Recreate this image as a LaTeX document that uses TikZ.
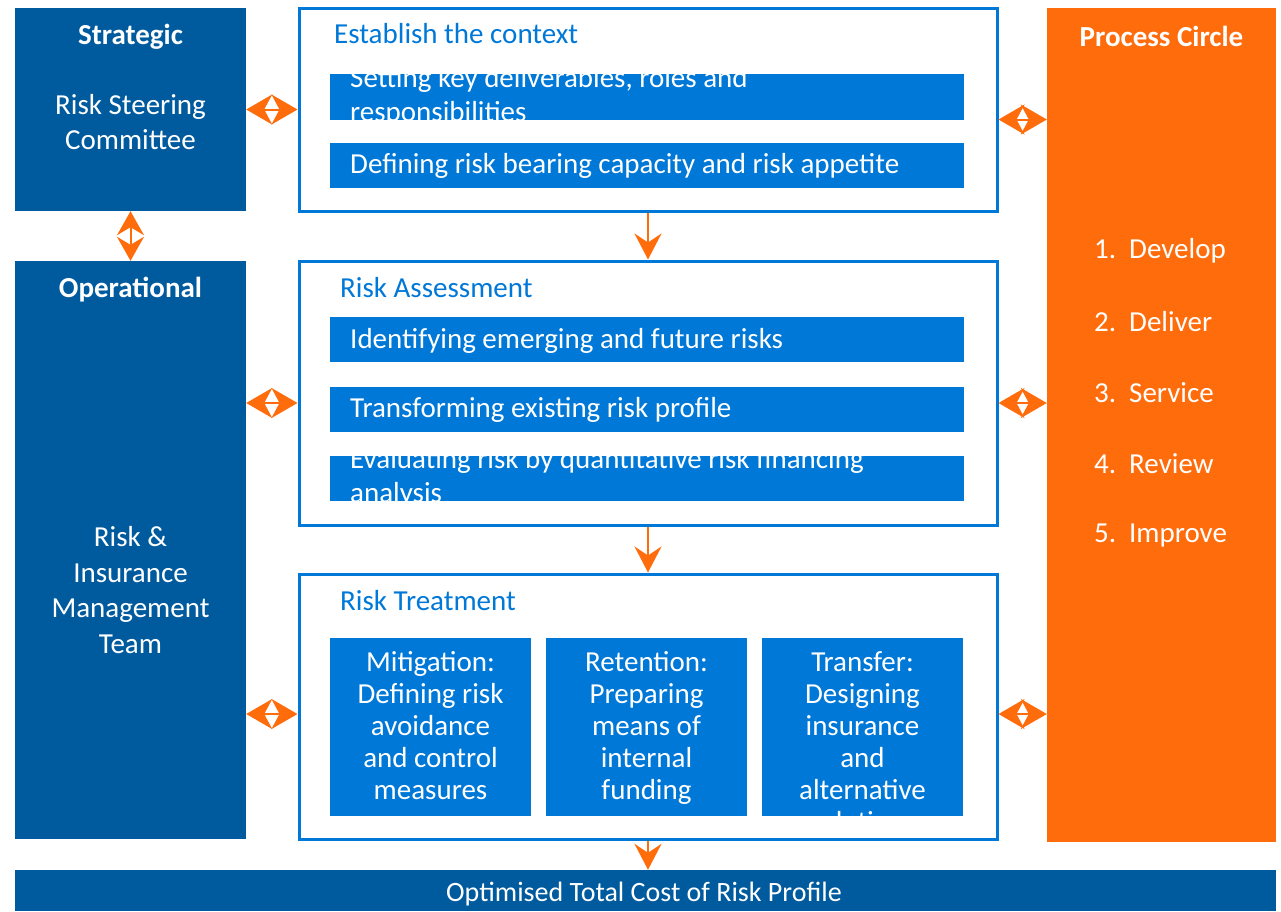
\documentclass[tikz,border=0pt]{standalone}
\usepackage{fontspec}
\setmainfont{Carlito}
\usetikzlibrary{arrows.meta}
\definecolor{darkblue}{RGB}{0,90,158}
\definecolor{brightblue}{RGB}{0,120,215}
\definecolor{procorange}{RGB}{255,108,12}
\tikzset{
  sidebox/.style={fill=darkblue, inner sep=0pt},
  framebox/.style={draw=brightblue, line width=3pt, fill=white, inner sep=0pt},
  stepbox/.style={fill=brightblue, inner sep=0pt},
  wtext/.style={text=white, font=\fontsize{29}{35.5}\selectfont, align=center, inner sep=0pt},
  btext/.style={text=brightblue, font=\fontsize{29}{30}\selectfont, anchor=west, inner sep=0pt},
  dbl/.style={draw=procorange, line width=2pt,
    {Stealth[length=26pt,width=30pt,inset=8pt]}-{Stealth[length=26pt,width=30pt,inset=8pt]}},
  dblv/.style={draw=procorange, line width=2pt,
    {Stealth[length=24pt,width=27pt,inset=8pt]}-{Stealth[length=24pt,width=27pt,inset=8pt]}},
  down/.style={draw=procorange, line width=2.5pt, -{Stealth[length=26pt,width=27pt,inset=9pt]}}
}
\newcommand{\cliptext}[3]{% box, position, text
  \begin{scope}
    \clip (#1.north west) rectangle (#1.south east);
    \node[wtext, anchor=west, align=left, font=\fontsize{29}{34}\selectfont] at #2 {#3};
  \end{scope}}
\begin{document}
\begin{tikzpicture}[x=1pt,y=-1pt]
  \useasboundingbox (0,0) rectangle (1281,911);
  % left column
  \node[sidebox, minimum width=231pt, minimum height=203pt] (strat) at (130.5,109.5) {};
  \node[sidebox, minimum width=231pt, minimum height=578pt] (oper) at (130.5,550) {};
  \node[wtext, font=\bfseries\fontsize{29}{30}\selectfont] (strattitle) at (130.5,37) {Strategic};
  \node[wtext] (stratbody) at (130.5,122) {Risk Steering\\Committee};
  \node[wtext, font=\bfseries\fontsize{29}{30}\selectfont] (opertitle) at (130.5,290) {Operational};
  \node[wtext] (operbody) at (130.5,590) {Risk \&\\Insurance\\Management\\Team};
  % process circle
  \node[fill=procorange, inner sep=0pt, minimum width=229pt, minimum height=834pt] (proc) at (1161.5,425) {};
  \node[wtext, font=\bfseries\fontsize{29}{30}\selectfont] (proctitle) at (1161.5,36) {Process Circle};
  \foreach \n/\w/\y in {1/Develop/251, 2/Deliver/322, 3/Service/393, 4/Review/464, 5/Improve/536}
    \node[wtext, anchor=west] (proc\n) at (1094,\y) {\makebox[35pt][l]{\n.}\w};
  % establish the context
  \node[framebox, minimum width=698pt, minimum height=203pt] (ctx) at (648,109.5) {};
  \node[btext] (ctxtitle) at (334,34) {Establish the context};
  \node[stepbox, minimum width=634pt, minimum height=46pt] (ctxa) at (647,97) {};
  \node[stepbox, minimum width=634pt, minimum height=45pt] (ctxb) at (647,165.5) {};
  \cliptext{ctxa}{(350,97)}{Setting key deliverables, roles and\\responsibilities}
  \node[wtext, anchor=west] (ctxbtext) at (350,166) {Defining risk bearing capacity and risk appetite};
  % risk assessment
  \node[framebox, minimum width=698pt, minimum height=264pt] (assess) at (648,393) {};
  \node[btext] (assesstitle) at (340,288) {Risk Assessment};
  \node[stepbox, minimum width=634pt, minimum height=45pt] (assa) at (647,339.5) {};
  \node[stepbox, minimum width=634pt, minimum height=45pt] (assb) at (647,409.5) {};
  \node[stepbox, minimum width=634pt, minimum height=45pt] (assc) at (647,478.5) {};
  \node[wtext, anchor=west] (assatext) at (350,340.5) {Identifying emerging and future risks};
  \node[wtext, anchor=west] (assbtext) at (350,410) {Transforming existing risk profile};
  \cliptext{assc}{(350,478)}{Evaluating risk by quantitative risk financing\\analysis}
  % risk treatment
  \node[framebox, minimum width=698pt, minimum height=265pt] (treat) at (648,706.5) {};
  \node[btext] (treattitle) at (340,601) {Risk Treatment};
  \node[stepbox, minimum width=201pt, minimum height=178pt] (mitig) at (430.5,727) {};
  \node[stepbox, minimum width=201pt, minimum height=178pt] (retent) at (646.5,727) {};
  \node[stepbox, minimum width=201pt, minimum height=178pt] (transf) at (862.5,727) {};
  \begin{scope}[every node/.style={wtext, anchor=north, font=\fontsize{29}{32}\selectfont}]
    \node (mitigtext) at (430.5,651) {Mitigation:\\Defining risk\\avoidance\\and control\\measures};
    \node (retenttext) at (646.5,651) {Retention:\\Preparing\\means of\\internal\\funding};
    \begin{scope}
      \clip (transf.north west) rectangle (transf.south east);
      \node (transftext) at (862.5,651) {Transfer:\\Designing\\insurance\\and\\alternative\\solutions};
    \end{scope}
  \end{scope}
  % result bar
  \node[sidebox, minimum width=1261pt, minimum height=41pt] (result) at (645.5,890.5) {};
  \node[wtext, font=\fontsize{28}{30}\selectfont] (resulttext) at (644,894) {Optimised Total Cost of Risk Profile};
  % arrows
  \draw[dbl] (strat.east) -- (ctx.west |- strat.east);
  \draw[dbl] ([yshift=-10pt]ctx.east) -- ([yshift=-10pt]ctx.east -| proc.west);
  \draw[dbl] ([yshift=-10pt]assess.west -| oper.east) -- ([yshift=-10pt]assess.west);
  \draw[dbl] ([yshift=-10pt]assess.east) -- ([yshift=-10pt]assess.east -| proc.west);
  \draw[dbl] ([yshift=-7.5pt]treat.west -| oper.east) -- ([yshift=-7.5pt]treat.west);
  \draw[dbl] ([yshift=-7.5pt]treat.east) -- ([yshift=-7.5pt]treat.east -| proc.west);
  \draw[dblv] (strat.south) -- (oper.north);
  \draw[down] (ctx.south) -- (assess.north);
  \draw[down] (assess.south) -- (treat.north);
  \draw[down] (treat.south) -- (treat.south |- result.north);
\end{tikzpicture}
\end{document}
